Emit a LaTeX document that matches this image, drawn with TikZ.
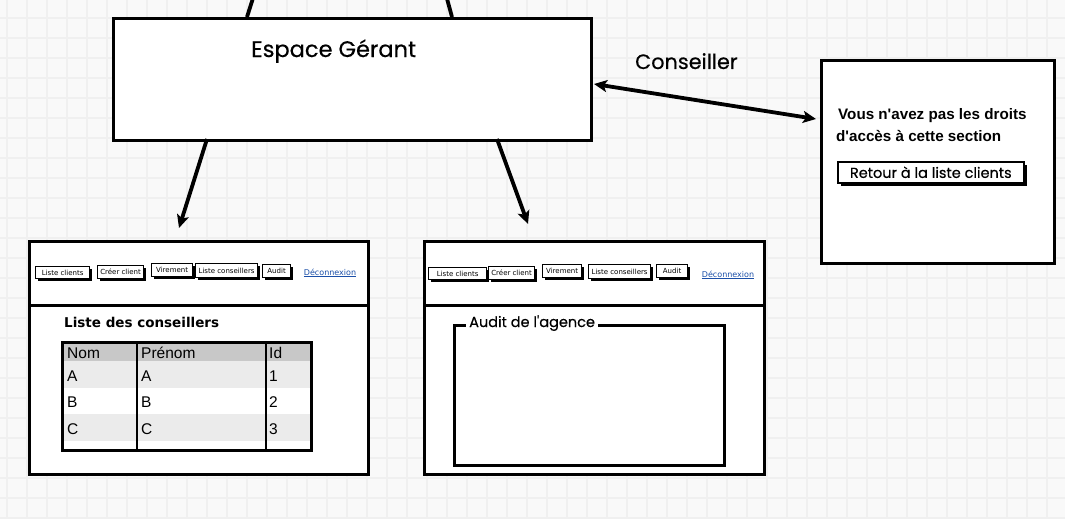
\documentclass[tikz,border=0pt]{standalone}
\usepackage{fontspec}
\setmainfont{Poppins}[FakeBold=0.4]
\newfontfamily\popb[FakeBold=1.2]{Poppins}
\newfontfamily\arialf{Liberation Sans}
\newfontfamily\dejavu{DejaVu Sans}
\usetikzlibrary{arrows.meta,shadows}
\definecolor{bgc}{HTML}{F9F9F9}
\definecolor{gridc}{HTML}{F0F0F0}
\definecolor{hdrc}{HTML}{C8C8C8}
\definecolor{rowc}{HTML}{EBEBEB}
\definecolor{linkc}{HTML}{1B4FA8}
\tikzset{
  frame/.style={draw=black, line width=3pt, fill=white, inner sep=0pt, anchor=north west},
  conn/.style={line width=3.8pt, -{Stealth[length=13pt,width=12pt,inset=3pt]}},
  dconn/.style={line width=3.8pt, {Stealth[length=13pt,width=12pt,inset=3pt]}-{Stealth[length=13pt,width=12pt,inset=3pt]}},
  btn/.style={draw=black, line width=1.2pt, fill=white, inner sep=0pt, anchor=north west,
     font=\dejavu\fontsize{7}{8}\selectfont,
     drop shadow={shadow xshift=2.8pt, shadow yshift=-2.8pt, fill=black, opacity=1}},
  lnk/.style={text=linkc, font=\dejavu\fontsize{8}{9}\selectfont, inner sep=0pt},
  lbl/.style={inner sep=0pt, anchor=base west},
  cell/.style={inner sep=0pt, anchor=base west, font=\arialf\fontsize{15.5}{17}\selectfont},
}
\begin{document}
\begin{tikzpicture}[x=1pt,y=-1pt]
\useasboundingbox (0,0) rectangle (1065,519);
\fill[bgc] (0,0) rectangle (1065,519);
\begin{scope}
\clip (0,0) rectangle (1065,519);
\foreach \i in {0,...,53} {\draw[gridc, line width=1.2pt] (7+20*\i,0) -- (7+20*\i,519);}
\foreach \j in {0,...,26} {\draw[gridc, line width=1.2pt] (0,-2+20*\j) -- (1065,-2+20*\j);}

% Espace Gerant
\coordinate (up1) at (254,-5);
\coordinate (up2) at (446,-5);
\draw[line width=3.8pt] (247,17) coordinate (e1) -- (up1);
\draw[line width=3.8pt] (452,17) coordinate (e2) -- (up2);
\node[frame, minimum width=478pt, minimum height=122pt] (esp) at (112,17) {};
\node[lbl, font=\fontsize{22.5}{25}\selectfont] (espt) at (251,57) {Espace Gérant};

% Access denied box
\node[frame, minimum width=233pt, minimum height=203pt] (deny) at (820,59) {};
\node[lbl, font=\arialf\bfseries\fontsize{15.2}{17}\selectfont] (d1) at (838,119) {Vous n\textquotesingle avez pas les droits};
\node[lbl, font=\arialf\bfseries\fontsize{15.2}{17}\selectfont] (d2) at (836,141) {d\textquotesingle accès à cette section};
\node[btn, line width=1.6pt, minimum width=186pt, minimum height=21pt, font=\fontsize{14.5}{16}\selectfont,
      drop shadow={shadow xshift=3.5pt, shadow yshift=-3.5pt, fill=black, opacity=1}] (ret) at (837,161) {Retour à la liste clients};

% connectors
\coordinate (a1s) at (207,139);
\coordinate (a1e) at (179,228);
\coordinate (a2s) at (497,139);
\coordinate (a2e) at (528,224);
\draw[conn] (a1s) -- (a1e);
\draw[conn] (a2s) -- (a2e);
\coordinate (ds) at (594,84);
\coordinate (de) at (816,119);
\draw[dconn] (ds) -- (de);
\node[lbl, font=\fontsize{20.8}{23}\selectfont] (cons) at (635,69) {Conseiller};

% Left screen
\node[frame, minimum width=339pt, minimum height=233pt] (scr1) at (28,240) {};
\draw[line width=3pt] (28,305) coordinate (h1a) -- (367,305) coordinate (h1b);
\node[btn, minimum width=54pt, minimum height=12pt] (b11) at (35,266) {Liste clients};
\node[btn, minimum width=46pt, minimum height=13pt] (b12) at (97,265) {Créer client};
\node[btn, minimum width=41pt, minimum height=13pt] (b13) at (151,263) {Virement};
\node[btn, minimum width=62pt, minimum height=14pt] (b14) at (195,263) {Liste conseillers};
\node[btn, minimum width=28pt, minimum height=13pt] (b15) at (262,264) {Audit};
\node[lnk] (l1) at (330,273) {\underline{Déconnexion}};

\node[lbl, font=\dejavu\bfseries\fontsize{13.5}{15}\selectfont] (tt) at (64,327) {Liste des conseillers};
% table
\fill[hdrc] (61,341) rectangle (311,361);
\fill[rowc] (61,361) rectangle (311,388);
\fill[white] (61,388) rectangle (311,414);
\fill[rowc] (61,414) rectangle (311,441);
\fill[white] (61,441) rectangle (311,449);
\draw[line width=1.8pt] (137,341) -- (137,449);
\draw[line width=1.8pt] (266,341) -- (266,449);
\node[draw=black, line width=2.6pt, inner sep=0pt, minimum width=249pt, minimum height=108pt, anchor=north west] (tbl) at (61,341) {};
\node[cell] at (67,358) {Nom};
\node[cell] at (141,358) {Prénom};
\node[cell] at (269,358) {Id};
\node[cell] at (67,381) {A};
\node[cell] at (141,381) {A};
\node[cell] at (269,381) {1};
\node[cell] at (67,407) {B};
\node[cell] at (141,407) {B};
\node[cell] at (269,407) {2};
\node[cell] at (67,434) {C};
\node[cell] at (141,434) {C};
\node[cell] at (269,434) {3};

% Right screen
\node[frame, minimum width=340pt, minimum height=233pt] (scr2) at (423,240) {};
\draw[line width=3pt] (423,305) coordinate (h2a) -- (763,305) coordinate (h2b);
\node[btn, minimum width=58pt, minimum height=12pt] (b21) at (428,267) {Liste clients};
\node[btn, minimum width=46pt, minimum height=13pt] (b22) at (488,266) {Créer client};
\node[btn, minimum width=39pt, minimum height=13pt] (b23) at (542,264) {Virement};
\node[btn, minimum width=62pt, minimum height=14pt] (b24) at (588,264) {Liste conseillers};
\node[btn, minimum width=31pt, minimum height=13pt] (b25) at (656,264) {Audit};
\node[lnk] (l2) at (728,275) {\underline{Déconnexion}};

\node[draw=black, line width=2.6pt, inner sep=0pt, minimum width=270pt, minimum height=140pt, anchor=north west] (grp) at (453,324) {};
\node[lbl, fill=white, inner xsep=3pt, inner ysep=0pt, font=\fontsize{14.5}{16}\selectfont] (grpt) at (466,327) {Audit de l\textquotesingle agence};
\end{scope}
\end{tikzpicture}
\end{document}
